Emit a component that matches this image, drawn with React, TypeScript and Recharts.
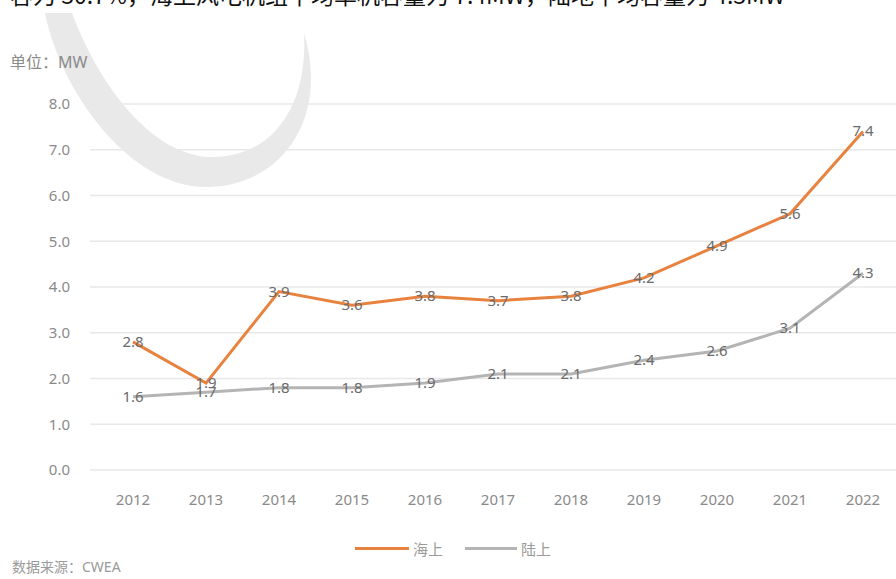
import { CartesianGrid, LabelList, Line, LineChart, XAxis, YAxis } from "recharts";

const years = ["2012", "2013", "2014", "2015", "2016", "2017", "2018", "2019", "2020", "2021", "2022"];
const offshore = [2.8, 1.9, 3.9, 3.6, 3.8, 3.7, 3.8, 4.2, 4.9, 5.6, 7.4];
const onshore = [1.6, 1.7, 1.8, 1.8, 1.9, 2.1, 2.1, 2.4, 2.6, 3.1, 4.3];
const yTicks = [0, 1, 2, 3, 4, 5, 6, 7, 8];

const data = years.map((year, i) => ({
  year,
  offshore: offshore[i],
  onshore: onshore[i],
}));

const FONT = '"Noto Sans", "Noto Sans CJK SC", sans-serif';
const ORANGE = "#E8823F";
const GRAY = "#B4B4B4";

const PointLabel = (props: any) => {
  const { x, y, value } = props;
  return (
    <text
      x={x}
      y={y}
      dy={5}
      textAnchor="middle"
      fill="#6b6b6b"
      fontSize={15}
      fontFamily={FONT}
    >
      {Number(value).toFixed(1)}
    </text>
  );
};

export default function App() {
  return (
    <div
      style={{
        position: "fixed",
        left: 0,
        top: 0,
        width: 896,
        height: 579,
        background: "#fff",
        overflow: "hidden",
        fontFamily: FONT,
      }}
    >
      {/* cut-off sentence from the page above the chart */}
      <div
        style={{
          position: "absolute",
          left: 10,
          top: -18,
          whiteSpace: "nowrap",
          fontSize: 23,
          lineHeight: "24px",
          color: "#111",
          fontFamily: '"Noto Sans CJK SC", sans-serif',
        }}
      >
        容为 30.7%，海上风电机组平均单机容量为 7.4MW，陆地平均容量为 4.3MW
      </div>

      {/* watermark crescent */}
      <svg width={896} height={579} style={{ position: "absolute", left: 0, top: 0 }}>
        <path
          d="M 45 13 C 60 90, 130 190, 210 187 C 280 185, 330 120, 304 33 C 308 110, 270 158, 210 157 C 160 156, 105 100, 72 13 Z"
          fill="#e9e9e9"
        />
      </svg>

      <div
        style={{
          position: "absolute",
          left: 10,
          top: 49,
          fontSize: 16,
          color: "#8a8a8a",
        }}
      >
        单位：MW
      </div>

      <div style={{ position: "absolute", left: 0, top: 0 }}>
        <LineChart
          width={896}
          height={579}
          data={data}
          margin={{ top: 104, right: 0, bottom: 79, left: 20 }}
        >
          <CartesianGrid vertical={false} stroke="#e8e8e8" strokeWidth={1.5} />
          <XAxis
            dataKey="year"
            axisLine={false}
            tickLine={false}
            tickSize={0}
            tickMargin={24}
            height={30}
            padding={{ left: 43, right: 33 }}
            tick={{ fill: "#8a8a8a", fontSize: 15, fontFamily: FONT }}
          />
          <YAxis
            width={70}
            domain={[0, 8]}
            ticks={yTicks}
            axisLine={false}
            tickLine={false}
            tickSize={0}
            tickMargin={20}
            tickFormatter={(v) => Number(v).toFixed(1)}
            tick={{ fill: "#8a8a8a", fontSize: 15, fontFamily: FONT }}
          />
          <Line
            type="linear"
            dataKey="onshore"
            stroke={GRAY}
            strokeWidth={3}
            dot={false}
            isAnimationActive={false}
          >
            <LabelList dataKey="onshore" content={PointLabel} />
          </Line>
          <Line
            type="linear"
            dataKey="offshore"
            stroke={ORANGE}
            strokeWidth={3}
            dot={false}
            isAnimationActive={false}
          >
            <LabelList dataKey="offshore" content={PointLabel} />
          </Line>
        </LineChart>
      </div>

      {/* legend */}
      <div
        style={{
          position: "absolute",
          left: 355,
          top: 538,
          display: "flex",
          alignItems: "center",
          fontSize: 15,
          color: "#9a9a9a",
        }}
      >
        <span style={{ width: 54, height: 3, background: ORANGE, display: "inline-block" }} />
        <span style={{ marginLeft: 4 }}>海上</span>
        <span
          style={{ width: 52, height: 3, background: GRAY, display: "inline-block", marginLeft: 22 }}
        />
        <span style={{ marginLeft: 4 }}>陆上</span>
      </div>

      <div
        style={{
          position: "absolute",
          left: 12,
          top: 556,
          fontSize: 14,
          color: "#9a9a9a",
        }}
      >
        数据来源：CWEA
      </div>
    </div>
  );
}
